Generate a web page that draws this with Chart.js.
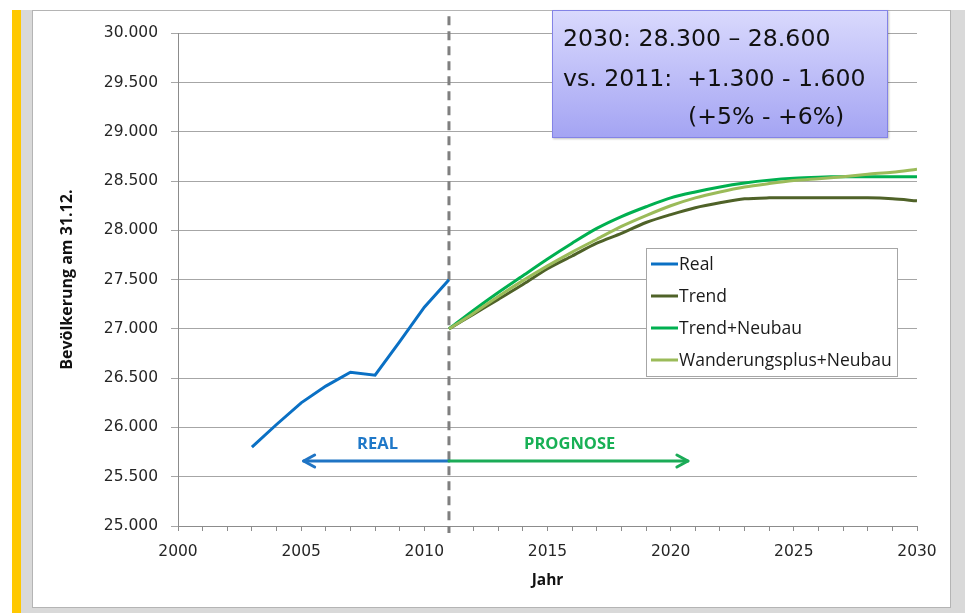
<!DOCTYPE html>
<html>
<head>
<meta charset="utf-8">
<script src="https://cdn.jsdelivr.net/npm/chart.js@4"></script>
<style>
  html, body { margin: 0; padding: 0; background: #fff; }
  body { width: 965px; height: 613px; position: relative; overflow: hidden; }
  #yellow { position: absolute; left: 12px; top: 10px; width: 9px; height: 603px; background: #ffc800; }
  #grey { position: absolute; left: 21px; top: 10px; width: 944px; height: 603px; background: #d9d9d9; }
  #panel { position: absolute; left: 32px; top: 10px; width: 917px; height: 596px; background: #fff; border: 1px solid #b4b4b4; }
  #wrap { position: absolute; left: 33px; top: 11px; width: 916px; height: 595px; }
  #note {
    position: absolute; left: 552px; top: 10px; width: 334px; height: 126px;
    border: 1px solid #8383e6;
    background: linear-gradient(#d9d9fd, #a4a4f3);
    box-shadow: 1px 1px 2px rgba(0,0,0,0.25);
    font-family: "DejaVu Sans", sans-serif; font-size: 23.6px; color: #111;
  }
  #note div { position: absolute; white-space: pre; }
</style>
</head>
<body>
<div id="yellow"></div>
<div id="grey"></div>
<div id="panel"></div>
<div id="wrap"><canvas id="myChart"></canvas></div>
<div id="note">
  <div style="left:10px; top:13px;">2030: 28.300 – 28.600</div>
  <div style="left:10px; top:53px;">vs. 2011:  +1.300 - 1.600</div>
  <div style="left:135px; top:91px;">(+5% - +6%)</div>
</div>
<script>
// Daten (Bevölkerung am 31.12., in Tausend)
const realYears = [2003, 2004, 2005, 2006, 2007, 2008, 2009, 2010, 2011];
const realValues = [25800, 26030, 26250, 26420, 26560, 26530, 26870, 27220, 27500];

const progYears = [2011, 2012, 2013, 2014, 2015, 2016, 2017, 2018, 2019, 2020,
                   2021, 2022, 2023, 2024, 2025, 2026, 2027, 2028, 2029, 2030];
const trend = [27000, 27150, 27300, 27450, 27610, 27740, 27870, 27970, 28080, 28160,
               28230, 28280, 28320, 28330, 28330, 28330, 28330, 28330, 28320, 28300];
const trendNeubau = [27000, 27190, 27370, 27540, 27710, 27870, 28020, 28140, 28240, 28330,
                     28390, 28440, 28480, 28510, 28530, 28540, 28545, 28545, 28545, 28545];
const wanderNeubau = [27000, 27160, 27330, 27490, 27640, 27780, 27910, 28040, 28150, 28250,
                      28330, 28390, 28440, 28475, 28505, 28525, 28545, 28570, 28590, 28620];

const xTicks = [2000, 2005, 2010, 2015, 2020, 2025, 2030];
const yMin = 25000, yMax = 30000, yStep = 500;

const splitYear = 2011;
const arrowLevel = 25660;

function pts(xs, ys) { return xs.map((x, i) => ({x: x, y: ys[i]})); }
function fmt(v) { return v.toLocaleString('de-DE'); }

const overlay = {
  id: 'overlay',
  beforeDatasetsDraw(chart) {
    const {ctx, scales: {x}, chartArea} = chart;
    const sx = x.getPixelForValue(splitYear);
    ctx.save();
    ctx.strokeStyle = '#7f7f7f';
    ctx.lineWidth = 3;
    ctx.setLineDash([9, 6]);
    ctx.beginPath();
    ctx.moveTo(sx, chartArea.top - 17);
    ctx.lineTo(sx, chartArea.bottom + 7);
    ctx.stroke();
    ctx.restore();
  },
  afterDatasetsDraw(chart) {
    const {ctx, scales: {x, y}} = chart;
    const sx = x.getPixelForValue(splitYear);
    const ay = y.getPixelForValue(arrowLevel);
    function arrow(x0, x1, color) {
      const dir = x1 > x0 ? 1 : -1;
      ctx.strokeStyle = color;
      ctx.lineWidth = 3;
      ctx.setLineDash([]);
      ctx.beginPath();
      ctx.moveTo(x0, ay);
      ctx.lineTo(x1, ay);
      ctx.stroke();
      ctx.beginPath();
      ctx.moveTo(x1 - dir * 11, ay - 6);
      ctx.lineTo(x1, ay);
      ctx.lineTo(x1 - dir * 11, ay + 6);
      ctx.stroke();
    }
    ctx.save();
    ctx.lineCap = 'round';
    ctx.lineJoin = 'round';
    arrow(sx, x.getPixelForValue(2005.1), '#1f74c4');
    arrow(sx, x.getPixelForValue(2020.7), '#1bab57');
    ctx.font = 'bold 16.5px "Open Sans"';
    ctx.textAlign = 'center';
    ctx.textBaseline = 'middle';
    ctx.fillStyle = '#1f78c8';
    ctx.fillText('REAL', x.getPixelForValue(2008.1), y.getPixelForValue(25830));
    ctx.fillStyle = '#18b055';
    ctx.fillText('PROGNOSE', x.getPixelForValue(2015.9), y.getPixelForValue(25830));
    ctx.restore();
  },
  afterDraw(chart) {
    const {ctx} = chart;
    const lx = 613, ly = 237, lw = 251, lh = 128;
    ctx.save();
    ctx.fillStyle = '#fff';
    ctx.fillRect(lx, ly, lw, lh);
    ctx.strokeStyle = '#a6a6a6';
    ctx.lineWidth = 1;
    ctx.strokeRect(lx + 0.5, ly + 0.5, lw, lh);
    ctx.font = '17.5px "Open Sans"';
    ctx.textBaseline = 'middle';
    ctx.lineWidth = 3;
    chart.data.datasets.forEach((ds, i) => {
      const cy = ly + 16 + i * 32;
      ctx.strokeStyle = ds.borderColor;
      ctx.beginPath();
      ctx.moveTo(lx + 5, cy);
      ctx.lineTo(lx + 32, cy);
      ctx.stroke();
      ctx.fillStyle = '#1a1a1a';
      ctx.fillText(ds.label, lx + 33, cy + 1);
    });
    ctx.restore();
  }
};

new Chart(document.getElementById('myChart').getContext('2d'), {
  type: 'line',
  data: {
    datasets: [
      { label: 'Real', data: pts(realYears, realValues), borderColor: '#0a70c4', order: 4, tension: 0 },
      { label: 'Trend', data: pts(progYears, trend), borderColor: '#4f6228', order: 3 },
      { label: 'Trend+Neubau', data: pts(progYears, trendNeubau), borderColor: '#00b050', order: 2 },
      { label: 'Wanderungsplus+Neubau', data: pts(progYears, wanderNeubau), borderColor: '#9bbb59', order: 1 }
    ]
  },
  options: {
    responsive: true,
    maintainAspectRatio: false,
    animation: false,
    layout: { padding: { left: 0, right: 32, top: 18, bottom: 0 } },
    elements: {
      point: { radius: 0 },
      line: { borderWidth: 3, tension: 0.3, fill: false }
    },
    plugins: { legend: { display: false }, tooltip: { enabled: false } },
    scales: {
      x: {
        type: 'linear',
        min: 2000, max: 2030,
        afterFit(s) { s.height = 80; },
        afterBuildTicks(s) {
          const t = [];
          for (let v = s.min; v <= s.max; v++) t.push({value: v});
          s.ticks = t;
        },
        ticks: {
          autoSkip: false,
          maxRotation: 0,
          padding: 12,
          color: '#262626',
          font: { family: '"DejaVu Sans"', size: 15.5 },
          callback: v => xTicks.includes(v) ? String(v) : ''
        },
        grid: { drawOnChartArea: false, drawTicks: true, tickLength: 5, color: '#8c8c8c' },
        border: { color: '#8c8c8c' },
        title: {
          display: true, text: 'Jahr', color: '#111',
          font: { family: '"Open Sans"', size: 15.5, weight: 'bold' },
          padding: { top: 0, bottom: 16 }
        }
      },
      y: {
        min: yMin, max: yMax,
        afterFit(s) { s.width = 145; },
        ticks: {
          stepSize: yStep,
          padding: 13,
          color: '#262626',
          font: { family: '"DejaVu Sans"', size: 15.5 },
          callback: v => fmt(v)
        },
        grid: { color: '#a6a6a6', tickLength: 7 },
        border: { color: '#8c8c8c' },
        title: {
          display: true, text: 'Bevölkerung am 31.12.', color: '#111',
          font: { family: '"Open Sans"', size: 16, weight: 'bold' },
          padding: { top: 25, bottom: 0 }
        }
      }
    }
  },
  plugins: [overlay]
});
</script>
</body>
</html>
